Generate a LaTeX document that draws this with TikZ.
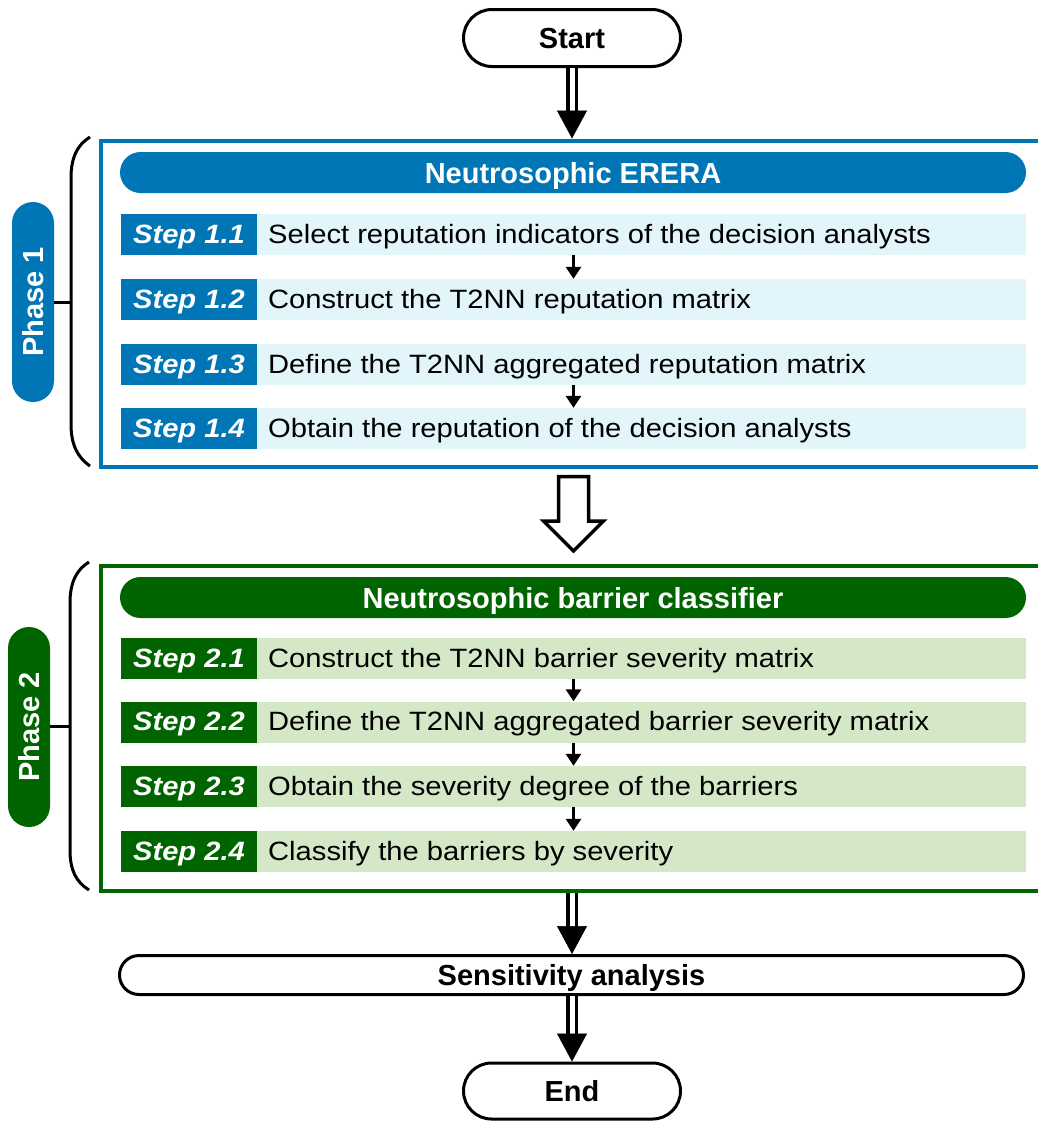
\documentclass[tikz,border=0pt]{standalone}
\usepackage{fontspec}
\setmainfont{Liberation Sans}
\newfontfamily\stepfont[FakeStretch=1.1]{Liberation Sans}
\usetikzlibrary{arrows.meta,calc}
\definecolor{pblue}{RGB}{0,118,182}
\definecolor{pbluelight}{RGB}{225,245,251}
\definecolor{pgreen}{RGB}{0,100,0}
\definecolor{pgreenlight}{RGB}{212,232,199}

\tikzset{
  boldtext/.style={font=\bfseries\fontsize{29}{34}\selectfont},
  terminal/.style={boldtext, draw=black, line width=3pt, fill=white,
    inner sep=0pt, text height=21pt, text depth=0pt},
  phaseframe/.style={line width=4pt, fill=white, inner sep=0pt,
    minimum width=980pt, anchor=north west},
  header/.style={boldtext, text=white, inner sep=0pt, minimum width=906pt,
    minimum height=41pt, rounded corners=20.5pt, text height=21pt, text depth=0pt},
  rowbox/.style={inner sep=0pt, minimum width=905pt, minimum height=41pt},
  steplabel/.style={font=\stepfont\bfseries\itshape\fontsize{26.5}{30}\selectfont,
    text=white, inner sep=0pt, minimum width=136pt, minimum height=41pt,
    text height=18pt, text depth=1pt, anchor=west},
  steptext/.style={font=\stepfont\fontsize{26.5}{30}\selectfont, inner sep=0pt,
    anchor=base west},
  phasepill/.style={boldtext, text=white, rotate=90, inner sep=0pt,
    minimum width=200pt, minimum height=42pt, rounded corners=21pt,
    text height=21pt, text depth=0pt},
  bracket/.style={draw=black, line width=3pt},
  smallarrow/.style={-{Triangle[width=15pt,length=12pt]}, line width=3pt},
  dblshaft/.style={draw=black, line width=3.5pt, double=white, double distance=5pt},
  bighead/.style={-{Triangle[width=30pt,length=28pt]}, line width=0.5pt},
  hollowarrow/.style={draw=black, line width=3.5pt, fill=white, miter limit=10},
}

\begin{document}
\begin{tikzpicture}[x=1pt,y=-1pt]
\useasboundingbox (0,0) rectangle (1038,1122);
\clip (0,0) rectangle (1038,1122);

% terminals
\node[terminal, minimum width=217pt, minimum height=57pt, rounded corners=28.5pt]
  (start) at (572,38) {Start};
\node[terminal, minimum width=904pt, minimum height=39pt, rounded corners=19.5pt]
  (sens) at (571.5,975) {Sensitivity analysis};
\node[terminal, minimum width=217pt, minimum height=56pt, rounded corners=28pt]
  (end) at (572,1091) {End};

% phase 1 frame
\node[phaseframe, draw=pblue, minimum height=326pt] (p1box) at (98.5,138.5) {};
\node[header, fill=pblue] (h1) at (573,172.5) {Neutrosophic ERERA};

\foreach \nm/\yc/\lab/\txt in {
  11/234.5/1.1/Select reputation indicators of the decision analysts,
  12/299.5/1.2/Construct the T2NN reputation matrix,
  13/364.5/1.3/Define the T2NN aggregated reputation matrix,
  14/428.5/1.4/Obtain the reputation of the decision analysts}{
  \node[rowbox, fill=pbluelight] (row\nm) at (573.5,\yc) {};
  \node[steplabel, fill=pblue] (lab\nm) at (row\nm.west) {Step \lab};
  \node[steptext] (txt\nm) at (268,\yc+8.5) {\txt};
}
\draw[smallarrow] (row11.south) -- (row12.north);
\draw[smallarrow] (row13.south) -- (row14.north);

% phase 2 frame
\node[phaseframe, draw=pgreen, minimum height=325pt] (p2box) at (98.5,563.5) {};
\node[header, fill=pgreen] (h2) at (573,597.5) {Neutrosophic barrier classifier};

\foreach \nm/\yc/\lab/\txt in {
  21/658.5/2.1/Construct the T2NN barrier severity matrix,
  22/722/2.2/Define the T2NN aggregated barrier severity matrix,
  23/786.5/2.3/Obtain the severity degree of the barriers,
  24/851.5/2.4/Classify the barriers by severity}{
  \node[rowbox, fill=pgreenlight] (row\nm) at (573.5,\yc) {};
  \node[steplabel, fill=pgreen] (lab\nm) at (row\nm.west) {Step \lab};
  \node[steptext] (txt\nm) at (268,\yc+8.5) {\txt};
}
\draw[smallarrow] (row21.south) -- (row22.north);
\draw[smallarrow] (row22.south) -- (row23.north);
\draw[smallarrow] (row23.south) -- (row24.north);

% phase pills and brackets
\node[phasepill, fill=pblue] (ph1) at (33,302) {Phase 1};
\node[phasepill, fill=pgreen] (ph2) at (29,727) {Phase 2};

\coordinate (b1mid) at (71,302);
\draw[bracket] (90,137) .. controls (77,145) and (71,158) .. (71,178)
  -- (71,424) .. controls (71,444) and (77,457) .. (90,466);
\draw[bracket] (ph1.south) -- (b1mid);

\coordinate (b2mid) at (70,726);
\draw[bracket] (89,562) .. controls (76,570) and (70,583) .. (70,603)
  -- (70,850) .. controls (70,870) and (76,882) .. (89,890);
\draw[bracket] (ph2.south |- b2mid) -- (b2mid);

% main flow arrows
\draw[dblshaft] (start.south) -- ($(start.south |- p1box.north)+(0,-27)$);
\draw[bighead] ($(start.south |- p1box.north)+(0,-28)$) -- (start.south |- p1box.north);

\draw[dblshaft] (start.south |- p2box.south) -- ($(sens.north -| start.south)+(0,-27)$);
\draw[bighead] ($(sens.north -| start.south)+(0,-28)$) -- (sens.north -| start.south);

\draw[dblshaft] (sens.south -| start.south) -- ($(end.north)+(0,-27)$);
\draw[bighead] ($(end.north)+(0,-28)$) -- (end.north);

% hollow arrow between the two phases
\coordinate (ha) at (573.5,476.5);
\draw[hollowarrow] ($(ha)+(-15,0)$) -- ($(ha)+(15,0)$) -- ($(ha)+(15,44.5)$)
  -- ($(ha)+(30,44.5)$) -- ($(ha)+(0,74.5)$) -- ($(ha)+(-30,44.5)$)
  -- ($(ha)+(-15,44.5)$) -- cycle;
\end{tikzpicture}
\end{document}
